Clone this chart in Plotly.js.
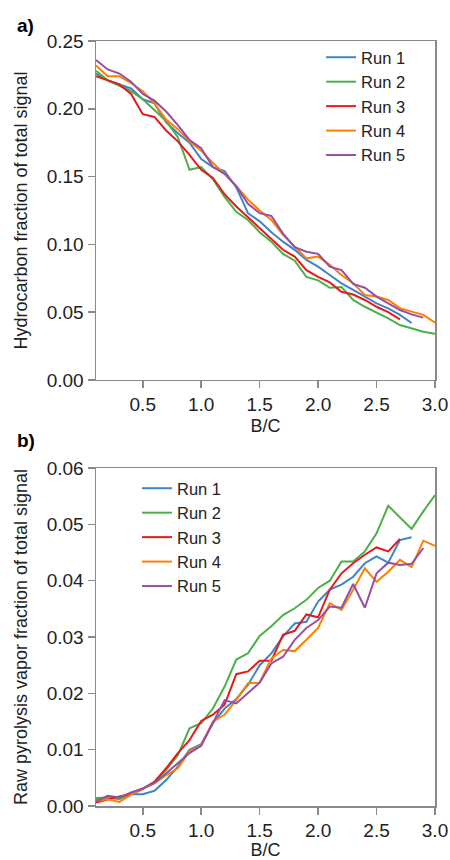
<!DOCTYPE html>
<html>
<head>
<meta charset="utf-8">
<script src="https://cdn.plot.ly/plotly-3.0.1.min.js"></script>
<style>html,body{margin:0;padding:0;background:#fff;}#chart{width:450px;height:860px;}</style>
</head>
<body>
<div id="chart"></div>
<script>
// B/C values (x axis), sampled every 0.1
var bc = [0.1,0.2,0.3,0.4,0.5,0.6,0.7,0.8,0.9,1.0,1.1,1.2,1.3,1.4,1.5,1.6,1.7,1.8,1.9,2.0,2.1,2.2,2.3,2.4,2.5,2.6,2.7,2.8,2.9,3.0];
var runNames = ["Run 1","Run 2","Run 3","Run 4","Run 5"];

// Panel a) Hydrocarbon fraction of total signal
var hcRun1 = [0.226,0.221,0.218,0.215,0.207,0.204,0.190,0.182,0.175,0.163,0.157,0.154,0.142,0.123,0.117,0.109,0.102,0.096,0.0885,0.0836,0.0774,0.0713,0.0664,0.0615,0.0565,0.0528,0.048,0.042];
var hcRun2 = [0.228,0.221,0.217,0.213,0.207,0.199,0.191,0.179,0.155,0.157,0.148,0.135,0.124,0.118,0.109,0.102,0.093,0.088,0.076,0.0735,0.068,0.0685,0.059,0.054,0.050,0.0455,0.0405,0.038,0.0356,0.034];
var hcRun3 = [0.224,0.221,0.218,0.211,0.196,0.194,0.184,0.176,0.166,0.155,0.149,0.137,0.128,0.120,0.112,0.104,0.096,0.091,0.081,0.076,0.072,0.065,0.063,0.059,0.054,0.050,0.0447];
var hcRun4 = [0.232,0.224,0.224,0.219,0.213,0.204,0.192,0.185,0.176,0.169,0.160,0.152,0.143,0.133,0.125,0.118,0.107,0.098,0.0897,0.091,0.085,0.0774,0.0713,0.0627,0.0615,0.059,0.053,0.0504,0.048,0.0423];
var hcRun5 = [0.236,0.229,0.226,0.220,0.211,0.206,0.198,0.188,0.177,0.171,0.157,0.152,0.143,0.130,0.123,0.121,0.108,0.098,0.0946,0.093,0.0836,0.081,0.0708,0.068,0.0615,0.0565,0.0516,0.0484,0.046];

// Panel b) Raw pyrolysis vapor fraction of total signal
var pvRun1 = [0.0012,0.0014,0.0015,0.0021,0.0021,0.0027,0.0046,0.007,0.010,0.011,0.0147,0.0173,0.019,0.0215,0.025,0.0271,0.0301,0.0324,0.0327,0.0363,0.0384,0.0393,0.0407,0.0431,0.0443,0.0432,0.0472,0.0477];
var pvRun2 = [0.0014,0.0015,0.0012,0.0021,0.0031,0.0043,0.0064,0.009,0.0138,0.0147,0.0173,0.0212,0.026,0.0271,0.0302,0.0319,0.0339,0.0351,0.0366,0.0387,0.040,0.0434,0.0434,0.0452,0.0484,0.0533,0.0513,0.0492,0.0523,0.0552];
var pvRun3 = [0.0006,0.0012,0.0017,0.0021,0.003,0.0043,0.0067,0.0094,0.0117,0.0151,0.0162,0.018,0.0234,0.0239,0.0258,0.0258,0.0304,0.0311,0.034,0.0335,0.0384,0.0413,0.0431,0.0446,0.0459,0.0452,0.0474];
var pvRun4 = [0.0009,0.0012,0.0007,0.002,0.0031,0.004,0.0055,0.0067,0.0097,0.0108,0.015,0.0162,0.0188,0.0218,0.0219,0.0262,0.0277,0.0275,0.0295,0.0316,0.036,0.0348,0.0384,0.0422,0.0398,0.0416,0.0437,0.0424,0.0471,0.0462];
var pvRun5 = [0.0008,0.0018,0.0015,0.0024,0.0031,0.0041,0.0058,0.0076,0.0094,0.0107,0.0147,0.0188,0.0182,0.020,0.0219,0.0253,0.0265,0.0295,0.0316,0.033,0.0354,0.0352,0.0394,0.0352,0.0413,0.0432,0.0428,0.043,0.0458];

var xTicks = [0.5,1.0,1.5,2.0,2.5,3.0];
var yTicksA = [0.00,0.05,0.10,0.15,0.20,0.25];
var yTicksB = [0.00,0.01,0.02,0.03,0.04,0.05,0.06];

var colors = ["#3d85c6","#4daf4a","#e41a1c","#ff7f00","#984ea3"];
var hc = [hcRun1,hcRun2,hcRun3,hcRun4,hcRun5];
var pv = [pvRun1,pvRun2,pvRun3,pvRun4,pvRun5];

var traces = [];
hc.forEach(function(vals,i){
  traces.push({x: bc.slice(0,vals.length), y: vals, type:'scatter', mode:'lines', name: runNames[i],
    line:{color:colors[i], width:2}, xaxis:'x', yaxis:'y', legend:'legend'});
});
pv.forEach(function(vals,i){
  traces.push({x: bc.slice(0,vals.length), y: vals, type:'scatter', mode:'lines', name: runNames[i],
    line:{color:colors[i], width:2}, xaxis:'x2', yaxis:'y2', legend:'legend2'});
});

var fam = '"Liberation Sans", Arial, sans-serif';
var font = {family:fam, size:18, color:'#222'};
var axisBase = {showline:true, mirror:true, linecolor:'#8a8a8a', linewidth:1.5, ticks:'outside',
  ticklen:7, tickwidth:1.5, tickcolor:'#8a8a8a', showgrid:false, zeroline:false,
  tickfont:{family:fam, size:19, color:'#222'}};

function ax(extra){ return Object.assign({}, axisBase, extra); }

var layout = {
  width:450, height:860,
  margin:{l:96, r:15, t:41, b:54},
  paper_bgcolor:'#fff', plot_bgcolor:'#fff',
  font: font,
  showlegend:true,
  xaxis: ax({domain:[0,1], range:[0.1,3.0], tickvals:xTicks, tickformat:'.1f', anchor:'y',
    title:{text:'B/C', font:{size:18}, standoff:5}}),
  yaxis: ax({domain:[0.5569,1], range:[0,0.25], tickvals:yTicksA, tickformat:'.2f', anchor:'x',
    title:{text:'Hydrocarbon fraction of total signal', font:{size:18}, standoff:14}}),
  xaxis2: ax({domain:[0,1], range:[0.1,3.0], tickvals:xTicks, tickformat:'.1f', anchor:'y2',
    title:{text:'B/C', font:{size:18}, standoff:5}}),
  yaxis2: ax({domain:[0,0.4418], range:[0,0.06], tickvals:yTicksB, tickformat:'.2f', anchor:'x2',
    title:{text:'Raw pyrolysis vapor fraction of total signal', font:{size:18}, standoff:14}}),
  legend: {x:0.664, y:1.0013, xanchor:'left', yanchor:'top', bgcolor:'rgba(0,0,0,0)',
    font:{family:fam, size:16.5, color:'#222'}, tracegroupgap:0},
  legend2: {x:0.121, y:0.4379, xanchor:'left', yanchor:'top', bgcolor:'rgba(0,0,0,0)',
    font:{family:fam, size:16.5, color:'#222'}, tracegroupgap:0},
  annotations: [
    {text:'<b>a)</b>', xref:'paper', yref:'paper', x:-0.24, y:1.02, xanchor:'left', yanchor:'middle',
      showarrow:false, font:{family:fam, size:19, color:'#000'}},
    {text:'<b>b)</b>', xref:'paper', yref:'paper', x:-0.24, y:0.4784, xanchor:'left', yanchor:'middle',
      showarrow:false, font:{family:fam, size:19, color:'#000'}}
  ]
};

Plotly.newPlot('chart', traces, layout, {displayModeBar:false, staticPlot:true});
</script>
</body>
</html>
